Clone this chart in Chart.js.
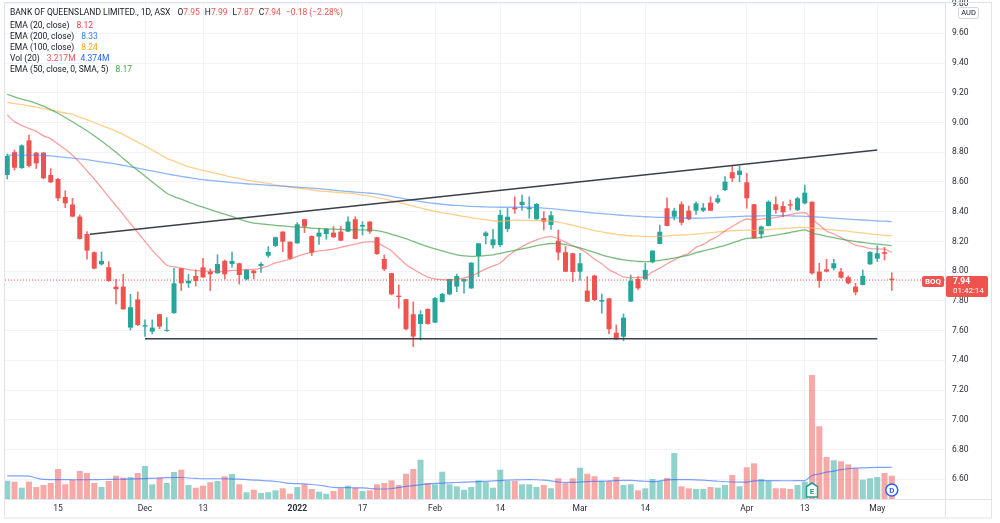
<!DOCTYPE html>
<html><head><meta charset="utf-8">
<script src="https://cdn.jsdelivr.net/npm/chart.js@4/dist/chart.umd.min.js"></script>
<style>
html,body{margin:0;padding:0;background:#fff;}
#wrap{position:relative;width:1000px;height:523px;overflow:hidden;}
canvas{position:absolute;left:0;top:0;}
.lg{position:absolute;left:10px;font-family:Roboto,"Liberation Sans",sans-serif;font-size:8.5px;line-height:11px;color:#131722;white-space:nowrap;}
.lg b{font-weight:normal;margin-left:5px;}
.lg i{font-style:normal;}
</style></head>
<body><div id="wrap"><canvas id="c" width="1000" height="523"></canvas>
<div class="lg" style="top:6.5px">BANK OF QUEENSLAND LIMITED., 1D, ASX <b>O<i style="color:#ef5350">7.95</i></b><b>H<i style="color:#ef5350">7.99</i></b><b>L<i style="color:#ef5350">7.87</i></b><b>C<i style="color:#ef5350">7.94</i></b><b style="color:#ef5350">−0.18 (−2.28%)</b></div>
<div class="lg" style="top:19.5px">EMA (20, close) <b style="color:#f23645">8.12</b></div>
<div class="lg" style="top:30.5px">EMA (200, close) <b style="color:#2f7ef5">8.33</b></div>
<div class="lg" style="top:41.5px">EMA (100, close) <b style="color:#f5a623">8.24</b></div>
<div class="lg" style="top:52.5px">Vol (20) <b style="color:#f7525f">3.217M</b><b style="color:#2962ff">4.374M</b></div>
<div class="lg" style="top:63.5px">EMA (50, close, 0, SMA, 5) <b style="color:#43a047">8.17</b></div>
</div>
<script>
// bar numbers are trading days counted from 1 Dec 2021 (= 0)
const firstBar = -19;
const opens = [
8.647,8.80,8.694,8.88,8.797,8.797,8.647,8.62,8.499,8.448,
8.367,8.25,8.127,8.046,8.026,7.896,7.896,7.62,7.81,7.627,
7.593,7.71,7.598,7.717,8.019,7.918,7.967,8.026,7.997,7.986,
8.069,8.048,8.053,7.945,8.004,8.035,8.104,8.17,8.266,8.198,
8.187,8.349,8.237,8.232,8.25,8.259,8.266,8.266,8.349,8.30,
8.333,8.228,8.082,7.986,7.835,7.811,7.71,7.645,7.746,7.654,
7.792,7.844,7.896,7.93,7.884,8.102,8.236,8.174,8.176,8.283,
8.427,8.445,8.416,8.349,8.357,8.311,8.205,8.127,8.12,7.996,
7.869,7.97,7.795,7.817,7.586,7.559,7.795,7.947,7.945,8.06,
8.183,8.423,8.366,8.45,8.407,8.407,8.407,8.461,8.463,8.546,
8.665,8.647,8.598,8.45,8.248,8.304,8.45,8.438,8.45,8.411,
8.456,8.467,7.997,8.012,8.019,7.997,7.959,7.896,7.907,8.046,
8.084,8.127,7.95];
const highs = [
8.788,8.815,8.85,8.916,8.80,8.80,8.69,8.625,8.54,8.49,
8.378,8.266,8.13,8.129,8.064,7.945,7.979,7.844,7.86,7.672,
7.672,7.71,7.687,8.019,8.019,7.979,8.008,8.086,8.015,8.111,
8.075,8.129,8.053,8.01,8.005,8.057,8.165,8.23,8.266,8.198,
8.326,8.349,8.237,8.288,8.286,8.30,8.30,8.366,8.366,8.333,
8.333,8.228,8.109,7.986,7.907,7.811,7.794,7.735,7.746,7.824,
7.85,7.947,7.98,7.947,8.057,8.187,8.266,8.281,8.41,8.422,
8.50,8.512,8.50,8.455,8.40,8.40,8.277,8.165,8.12,8.12,
7.963,7.974,7.846,7.817,7.638,7.712,7.974,7.963,8.053,8.138,
8.31,8.494,8.423,8.467,8.438,8.467,8.456,8.50,8.512,8.636,
8.707,8.707,8.658,8.45,8.304,8.474,8.50,8.467,8.479,8.497,
8.579,8.467,8.053,8.08,8.08,8.019,7.968,7.918,8.008,8.131,
8.17,8.16,7.99];
const lows = [
8.62,8.68,8.69,8.70,8.69,8.62,8.595,8.474,8.427,8.365,
8.215,8.08,8.015,8.04,7.93,7.78,7.743,7.604,7.633,7.56,
7.578,7.613,7.595,7.715,7.869,7.89,7.9,7.958,7.869,7.985,
7.947,8.026,7.913,7.94,7.948,7.992,8.093,8.165,8.131,8.08,
8.187,8.259,8.104,8.18,8.214,8.226,8.205,8.266,8.217,8.243,
8.254,8.113,8.003,7.84,7.75,7.605,7.492,7.537,7.643,7.654,
7.792,7.84,7.862,7.851,7.884,7.963,8.183,8.154,8.165,8.266,
8.389,8.411,8.355,8.349,8.277,8.28,8.075,7.996,7.929,7.94,
7.795,7.80,7.717,7.577,7.541,7.532,7.795,7.877,7.945,8.055,
8.183,8.304,8.344,8.311,8.345,8.382,8.40,8.407,8.456,8.541,
8.602,8.602,8.423,8.221,8.221,8.304,8.389,8.367,8.411,8.407,
8.452,7.98,7.891,7.994,8.008,7.952,7.914,7.84,7.907,8.046,
8.064,8.075,7.87];
const closes = [
8.775,8.696,8.846,8.708,8.725,8.625,8.598,8.49,8.456,8.367,
8.217,8.138,8.017,8.069,7.934,7.878,7.743,7.757,7.638,7.636,
7.62,7.627,7.604,7.918,7.918,7.936,7.934,7.958,7.979,8.048,
7.979,8.069,7.974,8.008,7.986,8.048,8.129,8.228,8.198,8.084,
8.315,8.30,8.125,8.259,8.286,8.228,8.205,8.333,8.217,8.311,
8.266,8.115,8.013,7.844,7.826,7.609,7.56,7.71,7.645,7.818,
7.847,7.947,7.967,7.947,8.057,8.187,8.259,8.214,8.378,8.366,
8.416,8.467,8.427,8.452,8.333,8.376,8.125,7.996,7.994,8.053,
7.795,7.806,7.806,7.609,7.541,7.687,7.936,7.884,8.008,8.138,
8.265,8.304,8.407,8.326,8.349,8.456,8.427,8.407,8.49,8.602,
8.624,8.676,8.49,8.221,8.30,8.467,8.411,8.396,8.441,8.49,
8.528,7.985,7.934,7.997,8.053,7.956,7.918,7.858,7.968,8.129,
8.12,8.116,7.94];
// volume in millions
const volumes = [
2.53,2.39,1.56,2.39,1.66,1.93,2.21,4.14,2.03,2.67,
3.87,3.59,2.21,1.66,2.49,3.22,2.94,3.04,3.59,4.56,
2.03,2.94,2.21,3.73,4.05,1.93,1.56,1.84,2.31,2.49,
3.14,3.45,2.03,0.93,1.28,0.83,0.93,1.20,1.48,0.73,
1.66,2.03,1.38,1.01,0.73,1.10,1.48,1.84,1.56,1.10,
1.20,2.03,2.21,2.58,1.93,3.49,4.14,5.43,2.21,2.03,
3.77,2.03,1.75,1.28,1.66,2.58,2.39,1.56,4.05,2.49,
2.49,2.03,2.03,1.66,1.93,1.48,2.86,2.21,2.86,4.32,
3.49,3.14,2.49,2.49,3.04,1.93,2.03,1.20,1.48,2.76,
2.49,2.90,6.35,1.75,1.48,1.38,1.38,1.66,1.56,1.93,
3.31,1.75,4.38,4.93,2.76,2.49,1.48,1.48,1.38,1.93,
2.39,17.13,10.04,5.80,5.35,5.21,4.79,4.24,2.67,2.86,
3.04,3.59,3.217];
const volMA20 = [
3.2,3.2,3.2,3.15,2.9,2.7,2.68,2.67,2.67,2.66,
2.66,2.66,2.68,2.69,2.7,2.72,2.74,2.76,2.78,2.82,
2.86,2.9,2.94,2.97,2.97,2.9,2.85,2.8,2.8,2.8,
2.8,2.79,2.74,2.68,2.62,2.56,2.5,2.42,2.3,2.15,
2.12,2.1,2.0,1.9,1.75,1.6,1.56,1.56,1.55,1.55,
1.45,1.38,1.38,1.45,1.6,1.75,1.84,1.95,2.1,2.15,
2.2,2.24,2.28,2.32,2.36,2.4,2.45,2.5,2.55,2.6,
2.63,2.66,2.67,2.66,2.6,2.5,2.35,2.3,2.3,2.35,
2.4,2.43,2.46,2.5,2.54,2.57,2.56,2.5,2.45,2.4,
2.5,2.65,2.67,2.67,2.67,2.65,2.6,2.55,2.45,2.38,
2.35,2.34,2.34,2.5,2.55,2.55,2.53,2.52,2.52,2.53,
2.55,3.25,3.45,3.7,3.85,4.05,4.18,4.27,4.31,4.34,
4.36,4.37,4.374];
const ema20 = [
9.05,9.006,8.98,8.96,8.94,8.91,8.89,8.855,8.82,8.78,
8.73,8.675,8.62,8.56,8.50,8.44,8.38,8.32,8.26,8.20,
8.14,8.09,8.04,8.03,8.02,8.01,8.005,8.0,8.0,7.997,
7.998,8.005,8.008,8.01,8.012,8.02,8.035,8.055,8.068,8.08,
8.10,8.115,8.128,8.136,8.142,8.148,8.16,8.172,8.182,8.194,
8.199,8.19,8.165,8.135,8.09,8.045,8.013,7.985,7.96,7.947,
7.943,7.941,7.945,7.955,7.968,7.99,8.015,8.035,8.055,8.10,
8.135,8.165,8.19,8.21,8.225,8.232,8.218,8.195,8.17,8.15,
8.12,8.08,8.05,8.01,7.985,7.962,7.956,7.957,7.962,7.995,
8.02,8.05,8.075,8.10,8.12,8.16,8.18,8.21,8.235,8.27,
8.30,8.33,8.35,8.345,8.35,8.355,8.36,8.37,8.38,8.39,
8.393,8.35,8.31,8.27,8.25,8.225,8.2,8.175,8.165,8.152,
8.15,8.148,8.125];
const ema50 = [
9.19,9.172,9.158,9.145,9.128,9.11,9.087,9.062,9.034,9.005,
8.975,8.944,8.911,8.876,8.838,8.8,8.758,8.716,8.678,8.64,
8.6,8.562,8.524,8.502,8.484,8.465,8.446,8.43,8.414,8.398,
8.384,8.368,8.35,8.334,8.323,8.318,8.313,8.308,8.304,8.3,
8.297,8.294,8.29,8.287,8.284,8.282,8.28,8.278,8.277,8.277,
8.277,8.272,8.263,8.248,8.234,8.218,8.2,8.182,8.165,8.15,
8.136,8.122,8.11,8.103,8.1,8.102,8.105,8.11,8.12,8.13,
8.14,8.15,8.16,8.172,8.18,8.186,8.185,8.178,8.168,8.156,
8.142,8.126,8.11,8.096,8.085,8.076,8.07,8.065,8.064,8.066,
8.072,8.08,8.088,8.098,8.108,8.124,8.136,8.148,8.16,8.173,
8.19,8.205,8.221,8.222,8.228,8.236,8.243,8.25,8.26,8.27,
8.278,8.258,8.245,8.234,8.225,8.215,8.207,8.2,8.193,8.187,
8.182,8.177,8.172];
const ema100 = [
9.136,9.127,9.12,9.112,9.104,9.094,9.083,9.074,9.064,9.054,
9.036,9.02,9.0,8.98,8.962,8.942,8.918,8.893,8.868,8.842,
8.815,8.788,8.759,8.74,8.72,8.703,8.69,8.678,8.667,8.656,
8.644,8.632,8.622,8.612,8.606,8.597,8.59,8.58,8.573,8.566,
8.559,8.553,8.546,8.54,8.536,8.532,8.528,8.525,8.52,8.512,
8.504,8.494,8.486,8.474,8.462,8.45,8.438,8.425,8.413,8.402,
8.392,8.385,8.376,8.368,8.36,8.352,8.346,8.339,8.334,8.338,
8.343,8.342,8.341,8.34,8.34,8.337,8.33,8.32,8.308,8.296,
8.285,8.273,8.264,8.255,8.248,8.243,8.238,8.235,8.233,8.232,
8.234,8.237,8.24,8.243,8.246,8.249,8.254,8.259,8.264,8.268,
8.272,8.274,8.276,8.274,8.276,8.28,8.284,8.287,8.29,8.293,
8.295,8.29,8.285,8.281,8.277,8.272,8.268,8.262,8.257,8.251,
8.246,8.241,8.237];
const ema200 = [
8.78,8.78,8.78,8.78,8.78,8.778,8.775,8.77,8.765,8.76,
8.755,8.75,8.742,8.735,8.728,8.72,8.712,8.702,8.693,8.683,
8.674,8.664,8.654,8.646,8.638,8.63,8.622,8.615,8.61,8.605,
8.6,8.596,8.592,8.588,8.585,8.582,8.578,8.575,8.572,8.568,
8.565,8.562,8.558,8.555,8.55,8.545,8.54,8.536,8.532,8.528,
8.524,8.52,8.512,8.503,8.494,8.485,8.476,8.468,8.461,8.455,
8.45,8.445,8.442,8.439,8.436,8.434,8.432,8.431,8.43,8.43,
8.43,8.43,8.43,8.428,8.424,8.42,8.416,8.411,8.406,8.401,
8.396,8.391,8.387,8.383,8.379,8.375,8.372,8.369,8.366,8.364,
8.362,8.36,8.359,8.358,8.357,8.356,8.357,8.359,8.361,8.363,
8.366,8.368,8.37,8.371,8.372,8.373,8.373,8.373,8.372,8.37,
8.369,8.366,8.363,8.36,8.357,8.353,8.35,8.347,8.344,8.341,
8.338,8.336,8.333];
const xTickBars = [-12, 0, 8, 21, 30, 40, 49, 60, 69, 83, 91, 101];
const xTickLabels = ['15','Dec','13','2022','17','Feb','14','Mar','14','Apr','13','May'];
const priceTicks = [6.6,6.8,7.0,7.2,7.4,7.6,7.8,8.0,8.2,8.4,8.6,8.8,9.0,9.2,9.4,9.6,9.8];
const resistanceLine = [[-7.6, 8.248], [101, 8.815]];
const supportLine = [[0, 7.545], [101, 7.545]];
const eventMarkers = [{bar: 92, label: 'E'}, {bar: 103, label: 'D'}];

const X_MIN = -19.31, X_MAX = 110.34, Y_MIN = 6.467, Y_MAX = 9.804, VOL_MAX = 68.5;
const GREEN = '#26a69a', RED = '#ef5350';
const bars = opens.map((_, k) => firstBar + k);
const up = closes.map((c, k) => c >= opens[k]);
const pts = arr => arr.map((v, k) => ({x: bars[k], y: v}));
const lastClose = closes[closes.length - 1];
const FONT = 'Roboto, "Liberation Sans", sans-serif';
Chart.defaults.font.family = FONT;

const lineDs = (label, arr, color, order) => ({type: 'line', label, yAxisID: 'y', data: pts(arr),
  borderColor: color, borderWidth: 1.3, pointRadius: 0, cubicInterpolationMode: 'monotone', order});

const overlay = {
  id: 'overlay',
  afterDatasetsDraw(chart) {
    const {ctx, scales: {x}, chartArea: a} = chart;
    eventMarkers.forEach(m => {
      const px = x.getPixelForValue(m.bar), cy = a.bottom - 9;
      ctx.save();
      const col = m.label === 'E' ? '#22a08e' : '#2962ff';
      ctx.beginPath();
      if (m.label === 'E') {
        ctx.moveTo(px, cy - 7); ctx.lineTo(px + 5.5, cy - 3.5); ctx.lineTo(px + 5.5, cy + 7);
        ctx.lineTo(px - 5.5, cy + 7); ctx.lineTo(px - 5.5, cy - 3.5); ctx.closePath();
      } else {
        ctx.arc(px, cy, 6, 0, Math.PI * 2);
      }
      ctx.fillStyle = '#fff'; ctx.fill();
      ctx.lineWidth = 1.5; ctx.strokeStyle = col; ctx.stroke();
      ctx.fillStyle = col; ctx.font = 'bold 8px ' + FONT; ctx.textAlign = 'center'; ctx.textBaseline = 'middle';
      ctx.fillText(m.label, px, cy + (m.label === 'E' ? 1.5 : 0.5));
      ctx.restore();
    });
  },
  afterDraw(chart) {
    const {ctx, scales: {y}} = chart;
    ctx.save();
    // frame and separators
    ctx.strokeStyle = '#e0e3eb'; ctx.lineWidth = 1;
    ctx.strokeRect(4.5, 2.5, 987, 515.5);
    ctx.beginPath(); ctx.moveTo(945.5, 2.5); ctx.lineTo(945.5, 518); ctx.stroke();
    ctx.beginPath(); ctx.moveTo(4.5, 499.5); ctx.lineTo(991.5, 499.5); ctx.stroke();
    // last price tags
    const yp = y.getPixelForValue(lastClose);
    ctx.fillStyle = RED;
    ctx.beginPath(); ctx.roundRect(922, yp - 4, 22, 11, 2); ctx.fill();
    ctx.beginPath(); ctx.roundRect(946, yp - 4, 42, 21, 2); ctx.fill();
    ctx.fillStyle = '#fff'; ctx.textBaseline = 'middle';
    ctx.font = 'bold 8px ' + FONT; ctx.textAlign = 'center';
    ctx.fillText('BOQ', 933, yp + 1.5);
    ctx.textAlign = 'left'; ctx.font = 'bold 8.5px ' + FONT;
    ctx.fillText(lastClose.toFixed(2), 953, yp + 2);
    ctx.font = '8px ' + FONT;
    ctx.fillText('01:42:14', 953, yp + 11);
    // currency box
    ctx.fillStyle = '#fff';
    ctx.beginPath(); ctx.roundRect(958.5, 7.5, 20, 11, 2); ctx.fill();
    ctx.strokeStyle = '#d1d4dc'; ctx.stroke();
    ctx.fillStyle = '#131722'; ctx.textAlign = 'center'; ctx.font = '7.5px ' + FONT;
    ctx.fillText('AUD', 968.5, 13.5);
    ctx.restore();
  }
};

new Chart(document.getElementById('c'), {
  type: 'bar',
  data: {
    datasets: [
      {type: 'bar', label: 'Volume', yAxisID: 'yv', data: pts(volumes),
        backgroundColor: up.map(u => u ? 'rgba(38,166,154,0.5)' : 'rgba(239,83,80,0.5)'),
        grouped: false, barPercentage: 0.83, categoryPercentage: 1, order: 10},
      {type: 'line', label: 'Vol MA', yAxisID: 'yv', data: pts(volMA20), borderColor: 'rgba(41,98,255,0.6)',
        borderWidth: 1.2, pointRadius: 0, cubicInterpolationMode: 'monotone', order: 9},
      {type: 'bar', label: 'Wick', yAxisID: 'y', data: bars.map((b, k) => ({x: b, y: [lows[k], highs[k]]})),
        backgroundColor: up.map(u => u ? 'rgba(38,166,154,0.85)' : 'rgba(239,83,80,0.85)'),
        grouped: false, barThickness: 1, order: 8},
      {type: 'bar', label: 'Body', yAxisID: 'y', data: bars.map((b, k) => ({x: b, y: [opens[k], closes[k]]})),
        backgroundColor: up.map(u => u ? GREEN : RED),
        grouped: false, barPercentage: 0.69, categoryPercentage: 1, minBarLength: 1, order: 7},
      lineDs('EMA 200', ema200, 'rgba(66,133,244,0.6)', 6),
      lineDs('EMA 100', ema100, 'rgba(255,183,77,0.65)', 6),
      lineDs('EMA 50', ema50, 'rgba(67,160,71,0.7)', 5),
      lineDs('EMA 20', ema20, 'rgba(239,83,80,0.55)', 5),
      {type: 'line', label: 'Last', yAxisID: 'y', data: [{x: X_MIN, y: lastClose}, {x: X_MAX, y: lastClose}],
        borderColor: RED, borderWidth: 1, borderDash: [1, 2], pointRadius: 0, order: 4},
      {type: 'line', label: 'Resistance', yAxisID: 'y', data: resistanceLine.map(p => ({x: p[0], y: p[1]})),
        borderColor: '#3c3f4a', borderWidth: 1.5, pointRadius: 0, order: 1},
      {type: 'line', label: 'Support', yAxisID: 'y', data: supportLine.map(p => ({x: p[0], y: p[1]})),
        borderColor: '#3c3f4a', borderWidth: 1.5, pointRadius: 0, order: 1}
    ]
  },
  options: {
    responsive: false, animation: false, devicePixelRatio: 1,
    layout: {padding: {left: 5, right: 9, top: 3, bottom: 6}},
    plugins: {legend: {display: false}, tooltip: {enabled: false}},
    scales: {
      x: {type: 'linear', min: X_MIN, max: X_MAX, offset: false,
        grid: {color: '#f0f3fa', drawTicks: false, offset: false}, border: {display: false},
        afterBuildTicks: s => { s.ticks = xTickBars.map(v => ({value: v})); },
        afterFit: s => { s.height = 18; s.paddingLeft = 0; s.paddingRight = 0; },
        ticks: {autoSkip: false, maxRotation: 0, padding: 5, color: '#2a2e39',
          callback: (v, i) => xTickLabels[i],
          font: ctx => ({family: FONT, size: 8.5, weight: (ctx.tick && ctx.tick.label === '2022') ? 'bold' : 'normal'})}},
      y: {type: 'linear', position: 'right', min: Y_MIN, max: Y_MAX,
        grid: {color: '#f0f3fa', drawTicks: false}, border: {display: false},
        afterBuildTicks: s => { s.ticks = priceTicks.map(v => ({value: v})); },
        afterFit: s => { s.width = 46; s.paddingTop = 0; s.paddingBottom = 0; },
        ticks: {padding: 7, color: '#2a2e39', font: {family: FONT, size: 8.5}, callback: v => Number(v).toFixed(2)}},
      yv: {type: 'linear', display: false, min: 0, max: VOL_MAX, grid: {display: false}}
    }
  },
  plugins: [overlay]
});
</script>
</body></html>
